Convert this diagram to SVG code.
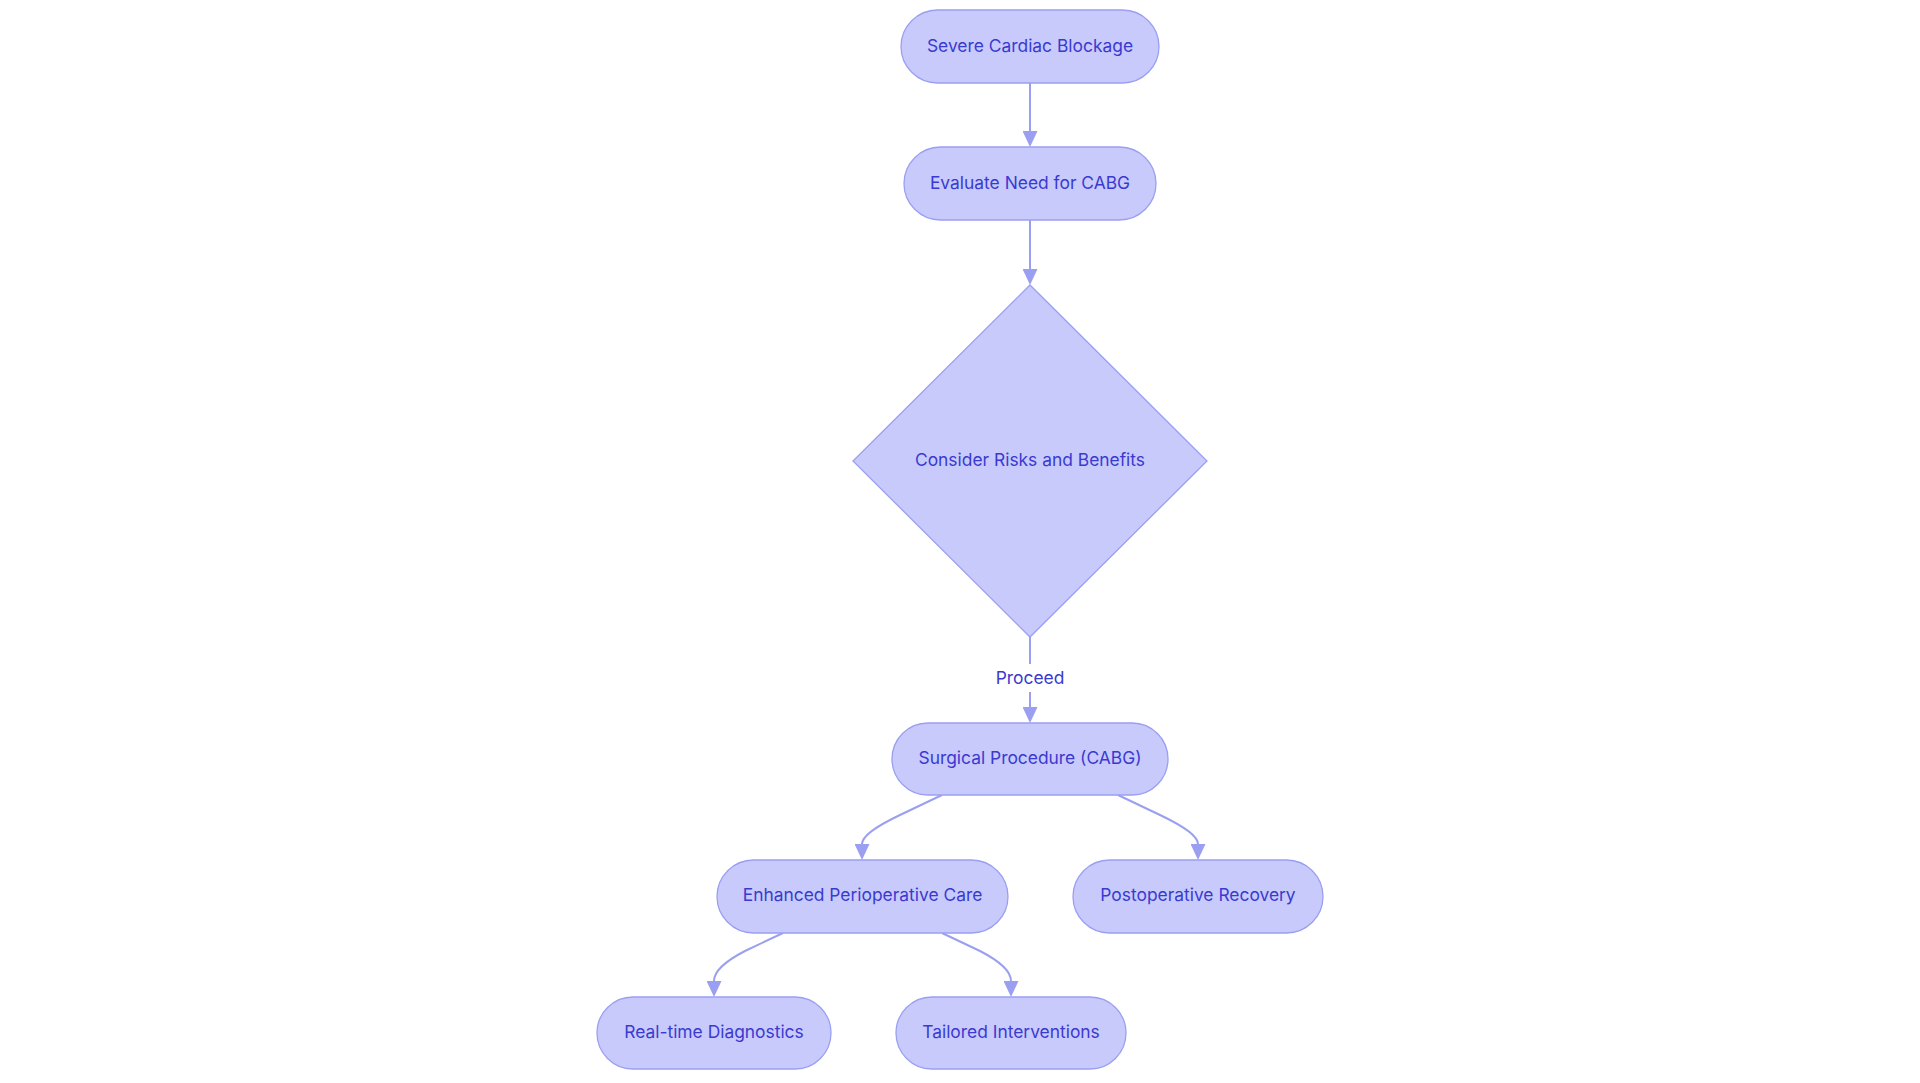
<svg xmlns="http://www.w3.org/2000/svg" width="1920" height="1083" viewBox="0 0 1920 1083">
<style>
.node rect, .node polygon { fill: #c8cafc; stroke: #9b9ff1; stroke-width: 1.3; }
.node text, .label text { font-family: Inter, "Noto Sans", sans-serif; font-size: 17.4px; fill: #3a3ad0; text-anchor: middle; }
.edge { fill: none; stroke: #9b9ff1; stroke-width: 2; marker-end: url(#arrow); }
</style>
<defs>
<marker id="arrow" markerUnits="userSpaceOnUse" viewBox="0 0 16 15" markerWidth="16" markerHeight="15" refX="0" refY="7.5" orient="auto">
<path d="M0,0 L16,7.5 L0,15 z" fill="#9b9ff1"/>
</marker>
</defs>
<rect width="1920" height="1083" fill="#ffffff"/>
<g id="connectors">
<path class="edge" d="M1030,83 L1030,131"/>
<path class="edge" d="M1030,220 L1030,269"/>
<path class="edge" d="M1030,637 L1030,707"/>
<path class="edge" d="M942,795 L900,815 Q862,833 862,844"/>
<path class="edge" d="M1118,795 L1160,815 Q1198,833 1198,844"/>
<path class="edge" d="M783,933 L745,951 Q714,967 714,981"/>
<path class="edge" d="M942,933 L980,951 Q1011,967 1011,981"/>
<g class="label" id="label-proceed">
<rect x="994" y="664" width="72" height="28" fill="#ffffff"/>
<text x="1030" y="684">Proceed</text>
</g>
</g>
<g id="node-severe" class="node">
<rect x="901" y="10" width="258" height="73" rx="36.5"/>
<text x="1030" y="52">Severe Cardiac Blockage</text>
</g>
<g id="node-evaluate" class="node">
<rect x="904" y="147" width="252" height="73" rx="36.5"/>
<text x="1030" y="189">Evaluate Need for CABG</text>
</g>
<g id="node-consider" class="node">
<polygon points="1030,285 1207,461 1030,637 853,461"/>
<text x="1030" y="466">Consider Risks and Benefits</text>
</g>
<g id="node-surgical" class="node">
<rect x="892" y="723" width="276" height="72" rx="36"/>
<text x="1030" y="764">Surgical Procedure (CABG)</text>
</g>
<g id="node-enhanced" class="node">
<rect x="717" y="860" width="291" height="73" rx="36.5"/>
<text x="862.5" y="901">Enhanced Perioperative Care</text>
</g>
<g id="node-postop" class="node">
<rect x="1073" y="860" width="250" height="73" rx="36.5"/>
<text x="1198" y="901">Postoperative Recovery</text>
</g>
<g id="node-realtime" class="node">
<rect x="597" y="997" width="234" height="72" rx="36"/>
<text x="714" y="1038">Real-time Diagnostics</text>
</g>
<g id="node-tailored" class="node">
<rect x="896" y="997" width="230" height="72" rx="36"/>
<text x="1011" y="1038">Tailored Interventions</text>
</g>
</svg>
